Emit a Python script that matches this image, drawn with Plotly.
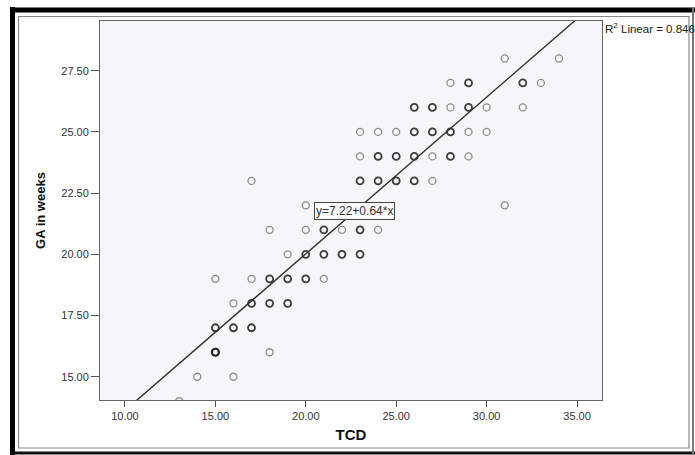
import plotly.graph_objects as go

# ---- data ----
tcd = [31, 34,
       28, 29, 32, 33,
       26, 27, 28, 29, 30, 32,
       23, 24, 25, 26, 27, 28, 29, 30,
       23, 24, 25, 26, 27, 28, 29,
       17, 23, 24, 25, 26, 27,
       20, 31,
       18, 20, 21, 22, 23, 24,
       19, 20, 21, 22, 23,
       15, 17, 18, 19, 20, 21,
       16, 17, 18, 19,
       15, 16, 17,
       15, 18,
       14, 16,
       13]
ga = [28, 28,
      27, 27, 27, 27,
      26, 26, 26, 26, 26, 26,
      25, 25, 25, 25, 25, 25, 25, 25,
      24, 24, 24, 24, 24, 24, 24,
      23, 23, 23, 23, 23, 23,
      22, 22,
      21, 21, 21, 21, 21, 21,
      20, 20, 20, 20, 20,
      19, 19, 19, 19, 19, 19,
      18, 18, 18, 18,
      17, 17, 17,
      16, 16,
      15, 15,
      14]
counts = [1, 1,
          1, 2, 2, 1,
          2, 2, 1, 2, 1, 1,
          1, 1, 1, 2, 2, 2, 1, 1,
          1, 2, 2, 2, 1, 2, 1,
          1, 2, 2, 2, 2, 1,
          1, 1,
          1, 1, 2, 1, 2, 1,
          1, 2, 2, 2, 2,
          1, 1, 2, 2, 2, 1,
          1, 2, 2, 2,
          2, 2, 2,
          3, 1,
          1, 1,
          1]
intercept = 7.22
slope = 0.64
r2 = 0.846
x_ticks = [10, 15, 20, 25, 30, 35]
y_ticks = [15.0, 17.5, 20.0, 22.5, 25.0, 27.5]

# ---- layout geometry (pixels) ----
W, H = 695, 455
L, R, T, B = 100, 602, 21, 400
pw, ph = R - L, B - T


def px(x):
    return (x - L) / pw


def py(y):
    return (B - y) / ph


fig = go.Figure()

styles = {1: ("#8c8c8c", 1.3), 2: ("#3c3c3c", 1.8), 3: ("#222222", 2.2)}
for c, (col, lw) in styles.items():
    xs = [x for x, k in zip(tcd, counts) if k == c]
    ys = [y for y, k in zip(ga, counts) if k == c]
    fig.add_trace(go.Scatter(
        x=xs, y=ys, mode="markers",
        marker=dict(symbol="circle-open", size=7, color=col,
                    line=dict(width=lw, color=col)),
        showlegend=False, hoverinfo="skip"))

lx = [8.0, 37.0]
ly = [intercept + slope * v for v in lx]
fig.add_trace(go.Scatter(x=lx, y=ly, mode="lines",
                         line=dict(color="#2f2f2f", width=1.4),
                         showlegend=False, hoverinfo="skip"))

font = "Liberation Sans, Arial, sans-serif"

fig.update_xaxes(range=[8.62, 36.38], tickvals=x_ticks, tickformat=".2f",
                 ticks="outside", ticklen=6, tickcolor="#555", tickwidth=1,
                 showgrid=False, zeroline=False, showline=True, mirror=True,
                 linecolor="#666", linewidth=1,
                 tickfont=dict(family=font, size=11, color="#333"),
                 title=dict(text="<b>TCD</b>", font=dict(family=font, size=15, color="#111"),
                            standoff=8))
fig.update_yaxes(range=[14.05, 29.53], tickvals=y_ticks, tickformat=".2f",
                 ticks="outside", ticklen=8, tickcolor="#555", tickwidth=1,
                 showgrid=False, zeroline=False, showline=True, mirror=True,
                 linecolor="#666", linewidth=1,
                 tickfont=dict(family=font, size=11, color="#333"),
                 title=dict(text="<b>GA in weeks</b>", font=dict(family=font, size=13, color="#111"),
                            standoff=12))

shapes = [
    # outer black frame (left & top thick)
    dict(type="line", xref="paper", yref="paper", x0=px(12.5), x1=px(12.5), y0=py(7), y1=py(455),
         line=dict(color="#000", width=5)),
    dict(type="line", xref="paper", yref="paper", x0=px(10), x1=px(695), y0=py(10), y1=py(10),
         line=dict(color="#000", width=5)),
    dict(type="line", xref="paper", yref="paper", x0=px(10), x1=px(695), y0=py(453), y1=py(453),
         line=dict(color="#111", width=3)),
    dict(type="line", xref="paper", yref="paper", x0=px(693), x1=px(693), y0=py(7), y1=py(455),
         line=dict(color="#777", width=2)),
    # inner thin frame
    dict(type="rect", xref="paper", yref="paper", x0=px(18.5), x1=px(689), y0=py(16.5), y1=py(448),
         line=dict(color="#888", width=1.2)),
]

annotations = [
    dict(text="y=7.22+0.64*x", xref="paper", yref="paper", x=px(354), y=py(211.5),
         xanchor="center", yanchor="middle", showarrow=False,
         font=dict(family=font, size=12, color="#333"),
         bordercolor="#444", borderwidth=1, borderpad=1, bgcolor="#fbfbfb"),
    dict(text="R<sup>2</sup> Linear = %.3f" % r2, xref="paper", yref="paper", x=px(603), y=py(28),
         xanchor="left", yanchor="middle", showarrow=False,
         font=dict(family=font, size=11.5, color="#222")),
]

fig.update_layout(
    width=W, height=H,
    margin=dict(l=L, r=W - R, t=T, b=H - B, pad=0),
    paper_bgcolor="#ffffff", plot_bgcolor="#f6f5f7",
    shapes=shapes, annotations=annotations,
    showlegend=False,
)

fig.write_html("out.html")
